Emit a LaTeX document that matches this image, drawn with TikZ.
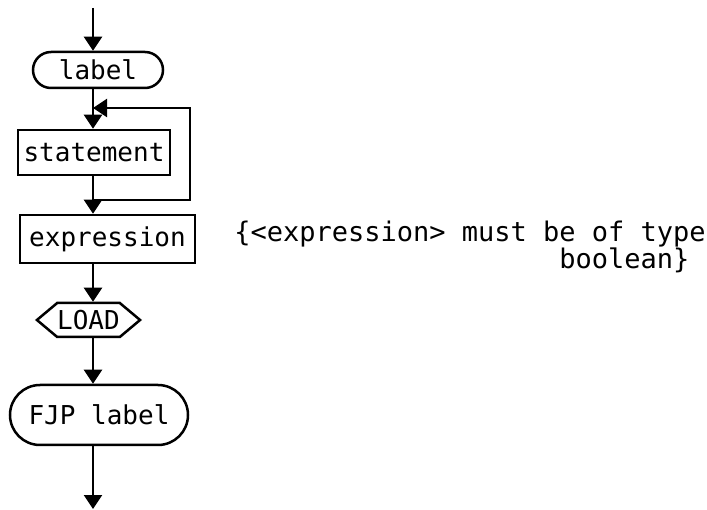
\documentclass[tikz,border=0pt]{standalone}
\usepackage{fontspec}
\setmonofont{DejaVu Sans Mono}
\usepackage{tikz}
\usetikzlibrary{arrows.meta,positioning,shapes.symbols,calc}

\begin{document}
\begin{tikzpicture}[
    x=1pt, y=-1pt,
    every node/.style={font=\ttfamily\fontsize{26}{26}\selectfont, line width=2.5pt, inner sep=0pt},
    box/.style={draw, minimum width=#1, minimum height=46pt},
    term/.style={draw, rounded corners=18pt, minimum height=36pt, minimum width=#1},
    hexa/.style={draw, shape=signal, signal to=west and east, signal pointer angle=80, minimum width=97pt, minimum height=34pt},
    arrow/.style={-{Triangle[length=14pt,width=18pt]}, line width=2.5pt}
]
\useasboundingbox (0,0) rectangle (707,510);
\coordinate (start) at (93,8);
\coordinate (join) at (93,108);
\coordinate (split) at (93,200);
\coordinate (loopx) at (190,200);
\coordinate (stop) at (93,509);

\node[term=130pt] (label) at (98,70) {label};
\node[box=152pt, minimum height=45pt] (stmt) at (94,152.5) {statement};
\node[box=175pt, minimum height=48pt] (expr) at (107.5,239) {expression};
\node[hexa] (load) at (88.5,320) {LOAD};
\node[term=178pt, minimum height=60pt, rounded corners=30pt] (fjp) at (99,415) {FJP label};
\node[anchor=base east, align=right, font=\ttfamily\fontsize{27}{26}\selectfont] (note) at (707,269)
    {\{<expression> must be of type\\boolean\}\hphantom{x}};

\draw[arrow] (start) -- (label.north -| start);
\draw[arrow] (label.south -| start) -- (stmt.north -| start);
\draw[arrow] (stmt.south -| start) -- (split) -- (loopx) -- (join -| loopx) -- (join);
\draw[arrow] (split) -- (expr.north -| start);
\draw[arrow] (expr.south -| start) -- (load.north -| start);
\draw[arrow] (load.south -| start) -- (fjp.north -| start);
\draw[arrow] (fjp.south -| start) -- (stop);
\end{tikzpicture}
\end{document}
